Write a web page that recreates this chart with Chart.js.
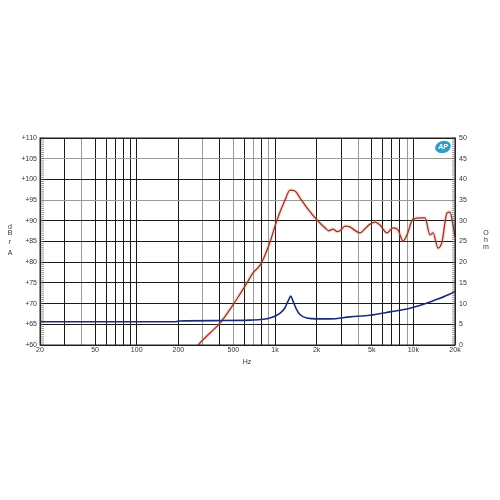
<!DOCTYPE html>
<html><head><meta charset="utf-8">
<script src="https://cdn.jsdelivr.net/npm/chart.js@4.4.1/dist/chart.umd.min.js"></script>
<style>html,body{margin:0;padding:0;background:#fff}#wrap{width:500px;height:500px;position:relative}</style>
</head><body><div id="wrap"><canvas id="c" width="500" height="500"></canvas></div>
<script>
const splFreq = [275,287,339,400,497,558,627,693,779,846,920,1034,1181,1283,1394,1516,1703,2011,2297,2450,2625,2800,2950,3206,3450,3662,4114,4500,4860,5283,5740,6449,7127,7742,8418,8995,9941,11550,12140,13190,13870,15080,16110,17510,18400,19340,20000];
const splValues = [59.6,60.5,62.9,65.3,69.7,72.3,75.0,77.4,79.3,81.7,84.9,90.2,95.0,97.4,97.2,95.5,93.1,90.2,88.3,87.6,88.0,87.4,87.6,88.7,88.6,88.0,87.1,88.2,89.2,89.7,89.0,87.1,88.3,87.8,85.1,86.6,90.4,90.7,90.7,86.6,87.1,83.4,84.9,91.9,92.1,89.0,86.1];
const impFreq = [20,100,190,200,400,660,920,1090,1180,1250,1300,1350,1420,1520,1700,2000,2500,3500,4860,6780,9460,13190,18400,20000];
const impValues = [5.6,5.6,5.6,5.8,5.9,6.0,6.5,7.7,9.0,10.8,11.8,10.6,8.8,7.3,6.5,6.3,6.3,6.8,7.2,8.0,8.9,10.4,12.3,13.0];
const gridFreqs = [20,30,40,50,60,70,80,90,100,200,300,400,500,600,700,800,900,1000,2000,3000,4000,5000,6000,7000,8000,9000,10000,20000];
const xTickLabels = {20:'20',50:'50',100:'100',200:'200',500:'500',1000:'1k',2000:'2k',5000:'5k',10000:'10k',20000:'20k'};
const grayX = [40,300,500,700,900,4000,9000];
const leftTicks = [60,65,70,75,80,85,90,95,100,105,110];
const rightTicks = [0,5,10,15,20,25,30,35,40,45,50];
const grayY = [95,105];

const splData = splFreq.map((f,i)=>({x:f,y:splValues[i]}));
const impData = impFreq.map((f,i)=>({x:f,y:impValues[i]}));
const FONT = {family:'"Liberation Sans", Arial, sans-serif', size:7};

const extras = {
  id:'extras',
  afterDraw(chart){
    const ctx = chart.ctx, a = chart.chartArea;
    const yl = chart.scales.y, yr = chart.scales.y2;
    ctx.save();
    ctx.strokeStyle = '#555'; ctx.lineWidth = 0.6;
    for(let v=60; v<=110; v+=0.5){
      const p = yl.getPixelForValue(v);
      ctx.beginPath(); ctx.moveTo(a.left, p); ctx.lineTo(a.left+4, p); ctx.stroke();
    }
    for(let v=0; v<=50; v+=0.5){
      const p = yr.getPixelForValue(v);
      ctx.beginPath(); ctx.moveTo(a.right-3, p); ctx.lineTo(a.right+1, p); ctx.stroke();
    }
    ctx.strokeStyle = '#222'; ctx.lineWidth = 1;
    ctx.strokeRect(a.left, a.top, a.right-a.left, a.bottom-a.top);
    ctx.fillStyle = '#333';
    ctx.font = '7px "Liberation Sans", Arial, sans-serif';
    ctx.textAlign = 'center'; ctx.textBaseline = 'middle';
    [['d',227],['B',233],['r',242],['A',253]].forEach(([t,y])=>ctx.fillText(t,10,y));
    [['O',233],['h',240],['m',247]].forEach(([t,y])=>ctx.fillText(t,486,y));
    ctx.fillText('Hz',247,362);
    ctx.fillStyle = '#2f9fc9';
    ctx.beginPath(); ctx.ellipse(443,147,8,6,-0.3,0,Math.PI*2); ctx.fill();
    ctx.fillStyle = '#fff';
    ctx.font = 'italic bold 7px "Liberation Sans", Arial, sans-serif';
    ctx.fillText('AP',443,147.5);
    ctx.restore();
  }
};

new Chart(document.getElementById('c'), {
  type:'line',
  data:{datasets:[
    {data:splData, yAxisID:'y', order:3, borderColor:'rgba(210,130,115,0.22)', borderWidth:4, pointRadius:0, cubicInterpolationMode:'monotone'},
    {data:splData, yAxisID:'y', order:2, borderColor:'#9a3322', borderWidth:1.3, pointRadius:0, cubicInterpolationMode:'monotone'},
    {data:impData, yAxisID:'y2', order:1, borderColor:'#1b2b7c', borderWidth:1.6, pointRadius:0, cubicInterpolationMode:'monotone'}
  ]},
  options:{
    responsive:false, animation:false, events:[],
    layout:{padding:{top:138,left:0,right:0,bottom:0}},
    plugins:{legend:{display:false}, tooltip:{enabled:false}},
    scales:{
      x:{type:'logarithmic', min:20, max:20000,
        afterBuildTicks(s){ s.ticks = gridFreqs.map(v=>({value:v})); },
        afterFit(s){ s.height = 155; },
        ticks:{autoSkip:false, maxRotation:0, padding:1, color:'#333', font:FONT,
          callback:(v)=> xTickLabels[v] || ''},
        grid:{drawTicks:false, color:(c)=> grayX.includes(c.tick && c.tick.value) ? '#999' : '#1a1a1a', lineWidth:1},
        border:{display:false}
      },
      y:{position:'left', min:60, max:110,
        afterBuildTicks(s){ s.ticks = leftTicks.map(v=>({value:v})); },
        afterFit(s){ s.width = 40; },
        ticks:{padding:3, color:'#333', font:FONT, callback:(v)=>'+'+v},
        grid:{drawTicks:false, color:(c)=> grayY.includes(c.tick && c.tick.value) ? '#999' : '#1a1a1a', lineWidth:1},
        border:{display:false}
      },
      y2:{position:'right', min:0, max:50,
        afterBuildTicks(s){ s.ticks = rightTicks.map(v=>({value:v})); },
        afterFit(s){ s.width = 45; },
        ticks:{padding:4, color:'#333', font:FONT},
        grid:{drawOnChartArea:false, drawTicks:false},
        border:{display:false}
      }
    }
  },
  plugins:[extras]
});
</script></body></html>
